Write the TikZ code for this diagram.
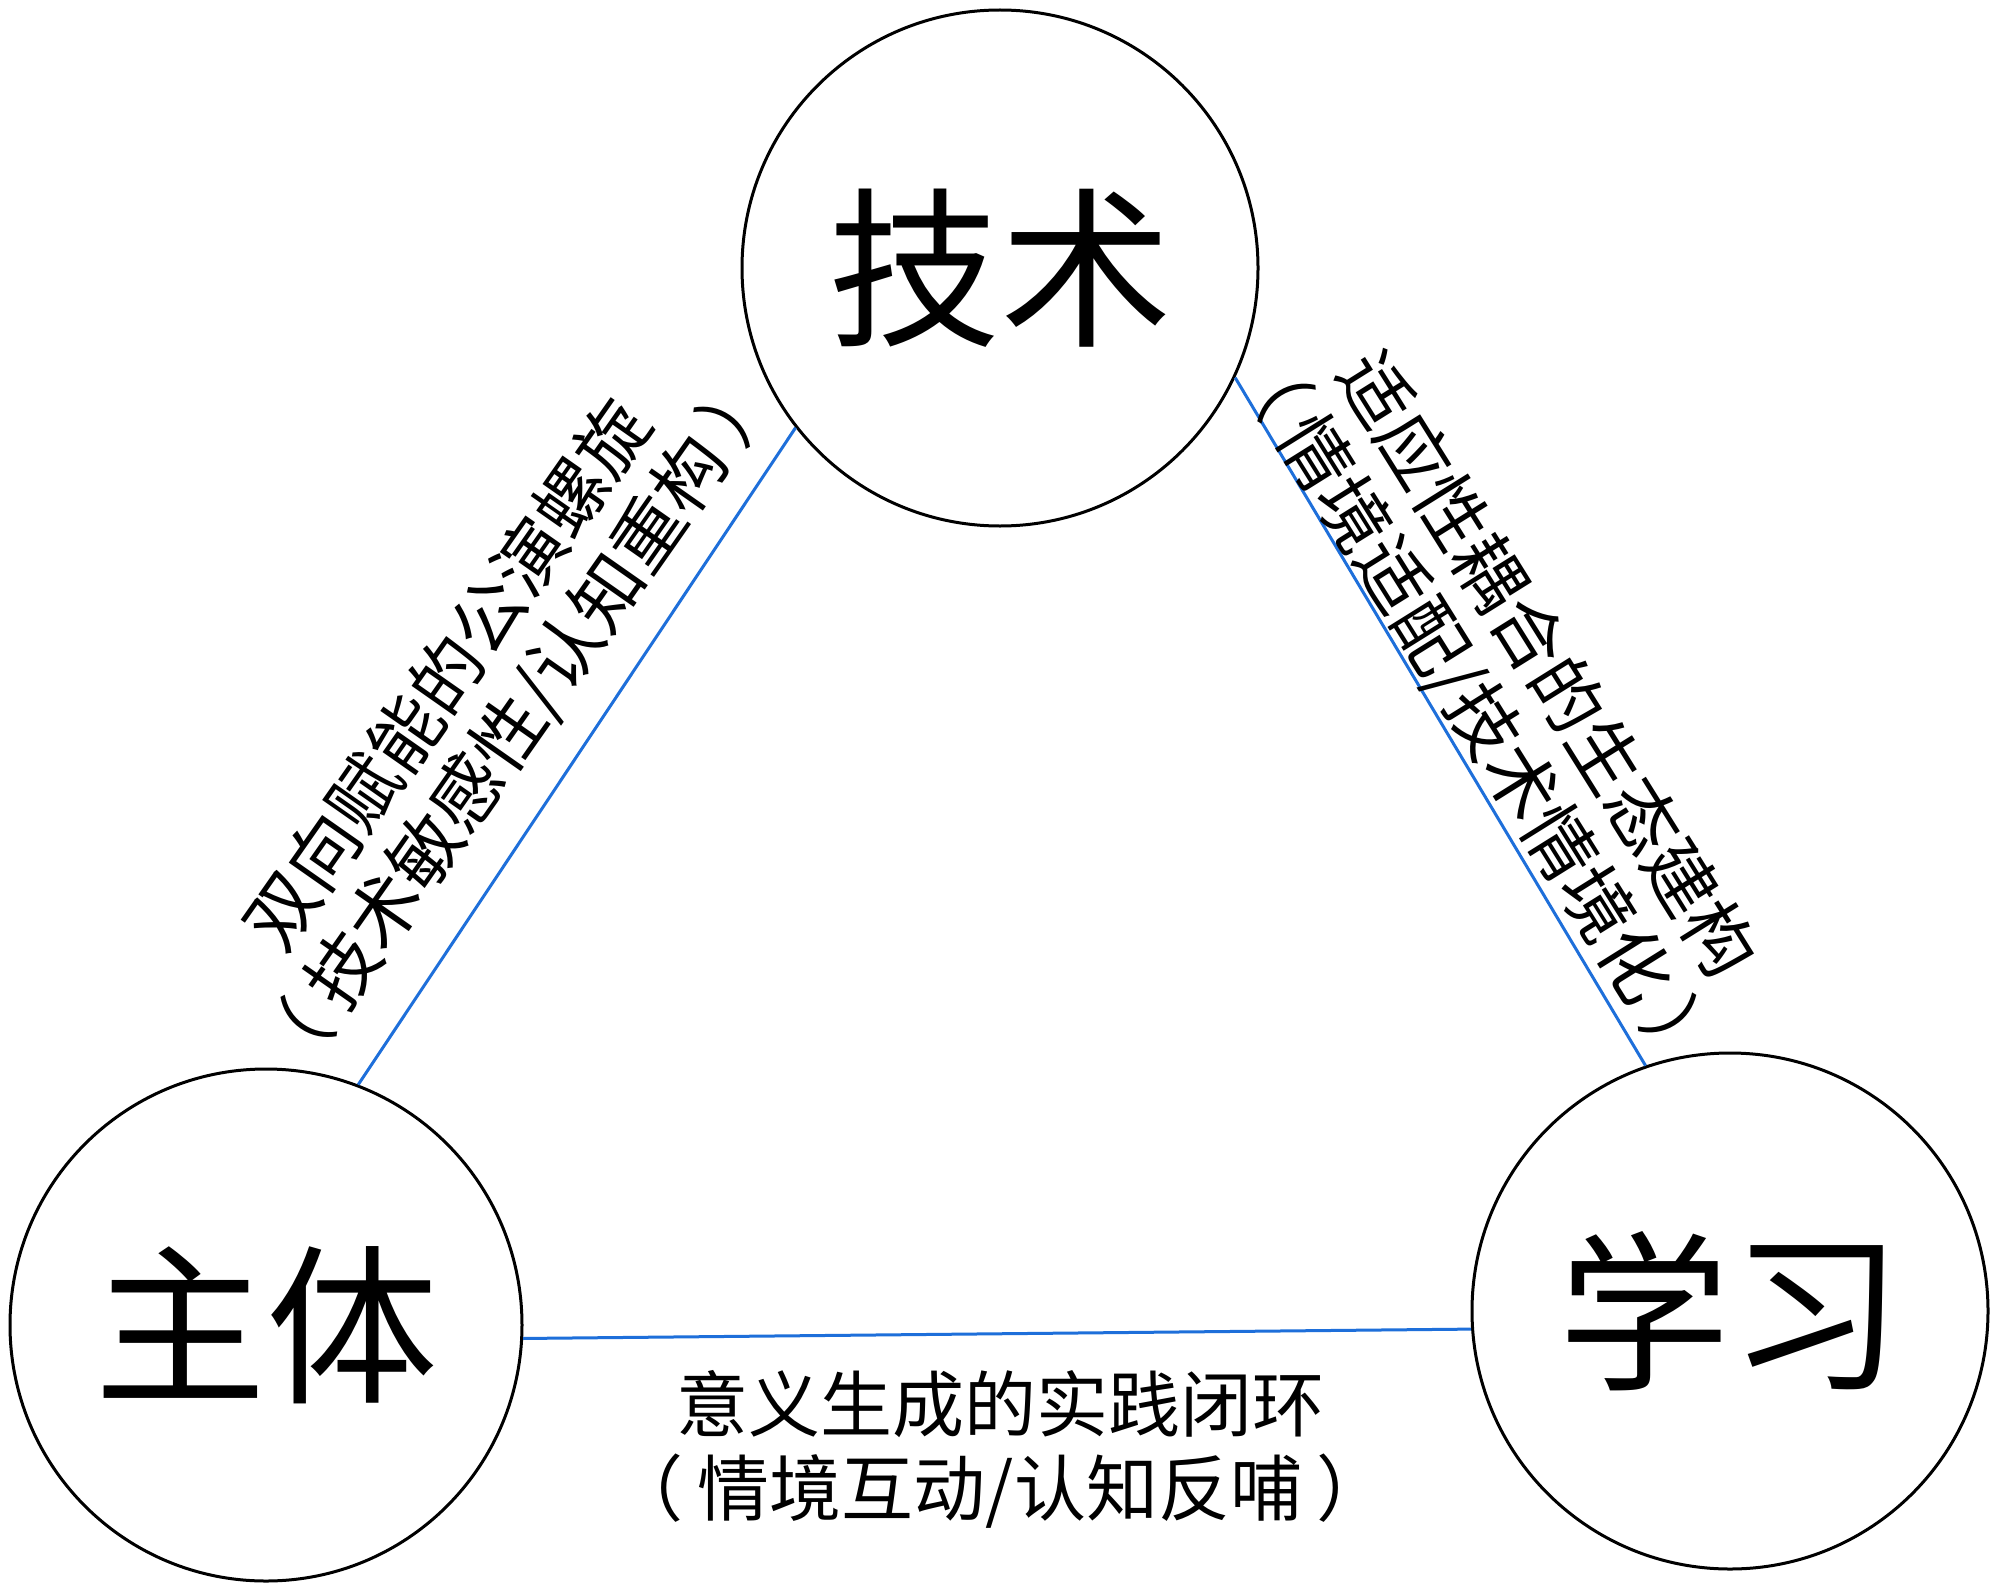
\documentclass[tikz,border=0pt]{standalone}
\usepackage{fontspec}
\setmainfont{Noto Sans CJK SC}
\definecolor{linkblue}{RGB}{30,111,218}
\newcommand{\lp}{（\hspace{0.2em}}
\newcommand{\rp}{\hspace{0.2em}）}
\tikzset{
  ent/.style={circle, draw=black, line width=3pt, minimum size=516pt, inner sep=0pt, font=\fontsize{172}{172}\selectfont},
  link/.style={draw=linkblue, line width=3pt},
  lbl/.style={align=center, font=\fontsize{72}{84}\selectfont, inner sep=0pt},
}
\begin{document}
\begin{tikzpicture}[x=1pt,y=-1pt]
\useasboundingbox[fill=white] (0,0) rectangle (2000,1592);
\node[ent] (js) at (1000,268) {技术};
\node[ent, minimum size=512pt] (zt) at (266,1325) {主体};
\node[ent] (xx) at (1730,1311) {学习};
\draw[link] (zt.69) -- (js.218);
\draw[link] (js.335) -- (xx.109);
\draw[link] (zt.-3) -- (xx.184);
\node[lbl, rotate=55] (l1) at (484,700) {双向赋能的公演螺旋\\\lp 技术敏感性/认知重构\rp};
\node[lbl, rotate=-58] (l2) at (1510,688) {适应性耦合的生态建构\\\lp 情境适配/技术情境化\rp};
\node[lbl] (l3) at (1000,1449) {意义生成的实践闭环\\\lp 情境互动/认知反哺\rp};
\end{tikzpicture}
\end{document}
